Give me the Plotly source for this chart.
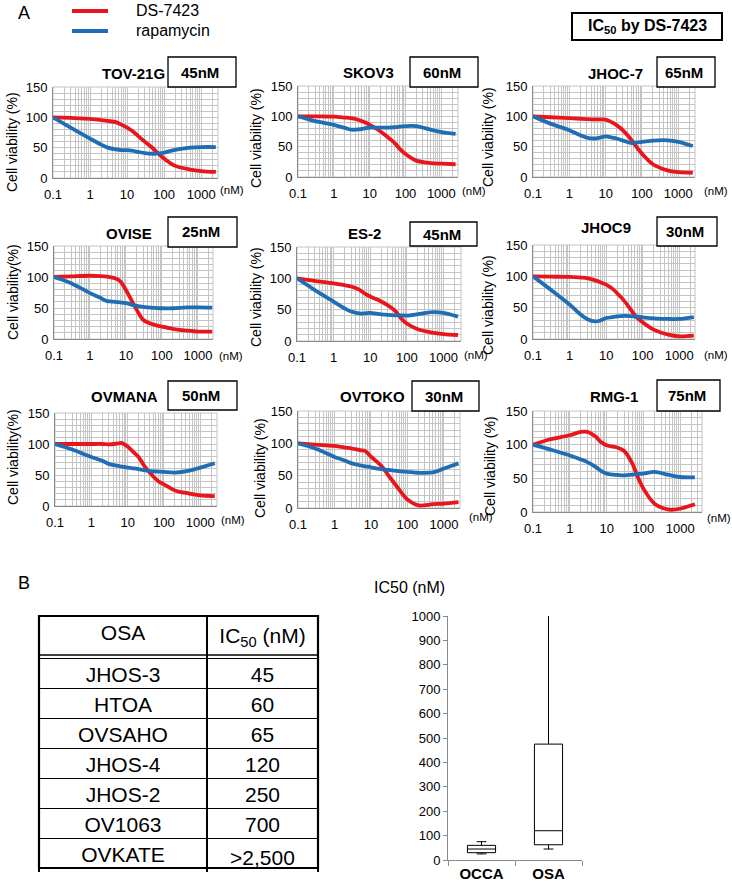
import numpy as np
import plotly.graph_objects as go

W, H = 732, 889
FONT = "Liberation Sans"
RED = "#e8161c"
BLUE = "#1f6db4"
GRID = "#c4c4c4"
AXIS = "#8a8a8a"

# ---------------- data ----------------
conc_nM = [0.1, 0.3, 1, 2, 3, 5, 7, 10, 15, 20, 30, 50, 70, 100, 200, 500, 1000, 2500]

cell_lines = ["TOV-21G", "SKOV3", "JHOC-7", "OVISE", "ES-2", "JHOC9", "OVMANA", "OVTOKO", "RMG-1"]
ic50_ds7423 = ["45nM", "60nM", "65nM", "25nM", "45nM", "30nM", "50nM", "30nM", "75nM"]
y_titles = ["Cell viability (%)", "Cell viability (%)", "Cell viability (%)",
            "Cell viability(%)", "Cell viability (%)", "Cell viability (%)",
            "Cell viability(%)", "Cell viability (%)", "Cell viability (%)"]

ds_tov21g = [100, 99, 97.5, 95.5, 94, 92, 88, 83, 76, 69, 60, 49, 40, 32, 20, 14, 11.5, 10]
rapa_tov21g = [100, 83, 65, 55, 50, 47, 46, 46, 44.5, 43, 41, 40, 40.5, 42, 46.5, 50, 51, 51]
ds_skov3 = [100, 100, 99.5, 98, 97, 94, 90.5, 86, 80, 75, 67, 56, 46, 38, 27, 23, 22, 21]
rapa_skov3 = [100, 92, 86, 81, 78, 78.5, 80, 81.5, 81.5, 81.5, 81.5, 82, 83, 84, 84, 78, 74, 71]
ds_jhoc7 = [100, 98.5, 97, 96, 95.5, 95, 95, 94.5, 90, 85.5, 77, 62, 50, 38.5, 21, 11, 8, 7]
rapa_jhoc7 = [100, 88, 77, 69, 65, 63.5, 65, 67, 65, 63.5, 60, 56, 56.5, 58, 60, 60.5, 58, 51]
ds_ovise = [100, 101, 102, 101.5, 100.5, 98, 93, 79, 60, 47, 31, 24.5, 22, 20, 16.5, 13.5, 12, 12]
rapa_ovise = [100, 90, 74, 66, 61, 60, 59, 57.7, 55, 53.5, 52, 50.5, 50, 49.6, 49.6, 51, 51, 50.5]
ds_es2 = [100, 96, 92, 89, 87, 82, 76, 71, 66.5, 63, 57, 47, 36, 28, 18.7, 13.3, 11, 9.6]
rapa_es2 = [100, 81.7, 63, 52, 47, 44, 44, 45, 43.5, 42.5, 41.6, 41, 40.8, 40.6, 42.7, 46, 45, 39]
ds_jhoc9 = [100, 99.5, 99, 98, 97.3, 93.6, 90.5, 86.7, 80, 73, 62, 45, 34, 26.6, 15, 7, 4.3, 5.3]
rapa_jhoc9 = [100, 79, 55, 39, 32, 28, 29.5, 33.5, 35, 36, 37, 36.5, 35.5, 34.6, 33, 32, 32, 35]
ds_ovmana = [100, 100, 100, 100, 99.5, 100.5, 101.5, 96, 86, 79, 63, 48, 40, 35, 25, 20, 17, 16]
rapa_ovmana = [100, 91, 79, 73, 68, 65, 63.5, 62, 60.5, 59.5, 57.5, 56, 55.5, 55, 53.8, 57, 62, 69]
ds_ovtoko = [100, 98, 96, 93.5, 92, 89.5, 88, 79.4, 71, 64, 50.5, 34, 23, 13, 4, 6, 6.7, 9]
rapa_ovtoko = [100, 92, 79, 73, 69, 66, 64.5, 63, 61, 60, 59, 57.5, 56.5, 56, 54.5, 55, 61, 69]
ds_rmg1 = [100, 108, 114, 119, 119, 112, 104, 99, 97, 95.5, 90.6, 71.8, 52, 34.7, 12.4, 3.5, 5, 11.4]
rapa_rmg1 = [100, 92.6, 84, 78, 74, 67, 61, 57, 55.5, 55, 54.5, 55.5, 56.5, 57, 59.5, 55, 52, 51.5]

ds_series = [ds_tov21g, ds_skov3, ds_jhoc7, ds_ovise, ds_es2, ds_jhoc9, ds_ovmana, ds_ovtoko, ds_rmg1]
rapa_series = [rapa_tov21g, rapa_skov3, rapa_jhoc7, rapa_ovise, rapa_es2, rapa_jhoc9,
               rapa_ovmana, rapa_ovtoko, rapa_rmg1]

x_tick_labels = ["0.1", "1", "10", "100", "1000"]
y_tick_labels = ["0", "50", "100", "150"]

osa_lines = ["JHOS-3", "HTOA", "OVSAHO", "JHOS-4", "JHOS-2", "OV1063", "OVKATE"]
osa_ic50_text = ["45", "60", "65", "120", "250", "700", ">2,500"]
osa_ic50 = [45, 60, 65, 120, 250, 700, 2500]
occa_ic50 = [45, 60, 65, 25, 45, 30, 50, 30, 75]
box_groups = ["OCCA", "OSA"]

# ---------------- layout geometry (pixels) ----------------
panels = [(53, 218, 87, 178, 3.455), (298, 458, 86, 177, 3.465), (533, 695, 86, 177, 3.46),
          (54, 213, 246, 339, 3.42), (297, 461, 247, 341, 3.48), (533, 695, 245, 339, 3.43),
          (55, 217, 413, 506, 3.46), (298, 460, 411, 508, 3.44), (533, 702, 411, 512, 3.59)]
title_pos = [(133, 74), (368, 73), (615, 74), (129, 233), (364, 233), (606, 228),
             (124, 397), (373, 397), (614, 397)]
ic_boxes = [(168, 57, 236, 87), (410, 57, 478, 87), (657, 57, 715, 87),
            (168, 217, 237, 247), (410, 222, 477, 246), (657, 217, 717, 246),
            (168, 381, 237, 410), (412, 381, 479, 411), (657, 380, 720, 411)]
ytitle_pos = [(12, 142), (256, 138), (488, 137), (13, 292), (256, 297), (488, 305),
              (13, 457), (260, 468), (490, 466)]
nm_pos = [(218, 190), (460, 191), (702, 191), (217, 356), (462, 355), (702, 355),
          (219, 520), (467, 517), (705, 518)]


def px(x):
    return x / W


def py(y):
    return 1 - y / H


def ann(x, y, text, size, xanchor="center", **kw):
    d = dict(x=px(x), y=py(y), xref="paper", yref="paper", text=text, showarrow=False,
             xanchor=xanchor, yanchor="middle", font=dict(size=size, family=FONT, color="black"))
    d.update(kw)
    return d


fig = go.Figure()
layout = dict(width=W, height=H, autosize=False, margin=dict(l=0, r=0, t=0, b=0, pad=0),
              paper_bgcolor="white", plot_bgcolor="white", showlegend=False,
              font=dict(family=FONT, color="black"))
shapes, annotations = [], []

for i, (name, ds, rp) in enumerate(zip(cell_lines, ds_series, rapa_series)):
    n = "" if i == 0 else str(i + 1)
    x0, x1, yt, yb, xend = panels[i]
    gv, gt = [], []
    for k in range(-1, 4):
        for d in range(1, 10):
            v = d * 10.0 ** k
            if np.log10(v) <= xend + 1e-9:
                gv.append(v)
                gt.append(x_tick_labels[k + 1] if d == 1 else "")
    yv = list(range(0, 151, 10))
    yt_txt = [y_tick_labels[v // 50] if v % 50 == 0 else "" for v in yv]
    layout["xaxis" + n] = dict(type="log", range=[-1, xend], domain=[px(x0), px(x1)],
                               anchor="y" + n, tickmode="array", tickvals=gv, ticktext=gt,
                               showgrid=True, gridcolor=GRID, gridwidth=1, showline=True,
                               linecolor=AXIS, linewidth=1, ticks="outside", ticklen=4,
                               tickcolor="rgba(0,0,0,0)", tickfont=dict(size=13),
                               zeroline=False, fixedrange=True, automargin=False)
    layout["yaxis" + n] = dict(range=[0, 150], domain=[py(yb), py(yt)], anchor="x" + n,
                               tickmode="array", tickvals=yv, ticktext=yt_txt, showgrid=True,
                               gridcolor=GRID, gridwidth=1, showline=True, linecolor=AXIS,
                               linewidth=1, ticks="outside", ticklen=2,
                               tickcolor="rgba(0,0,0,0)", tickfont=dict(size=13),
                               zeroline=False, fixedrange=True, automargin=False)
    shapes.append(dict(type="rect", xref="x" + n + " domain", yref="y" + n + " domain",
                       x0=0, x1=1, y0=0, y1=1, line=dict(color=GRID, width=1), layer="below"))
    fig.add_trace(go.Scatter(x=conc_nM, y=ds, mode="lines", name="DS-7423",
                             line=dict(color=RED, width=3.8, shape="spline", smoothing=0.9),
                             xaxis="x" + n, yaxis="y" + n, hoverinfo="skip"))
    fig.add_trace(go.Scatter(x=conc_nM, y=rp, mode="lines", name="rapamycin",
                             line=dict(color=BLUE, width=3.8, shape="spline", smoothing=0.9),
                             xaxis="x" + n, yaxis="y" + n, hoverinfo="skip"))
    tx, ty = title_pos[i]
    annotations.append(ann(tx, ty, "<b>%s</b>" % name, 15))
    bx0, by0, bx1, by1 = ic_boxes[i]
    shapes.append(dict(type="rect", xref="paper", yref="paper", x0=px(bx0), x1=px(bx1),
                       y0=py(by1), y1=py(by0), line=dict(color="black", width=1.3),
                       fillcolor="white", layer="above"))
    annotations.append(ann((bx0 + bx1) / 2 - 2, (by0 + by1) / 2, "<b>%s</b>" % ic50_ds7423[i], 15))
    ax, ay = ytitle_pos[i]
    annotations.append(ann(ax, ay, y_titles[i], 14, textangle=-90))
    nx, ny = nm_pos[i]
    annotations.append(ann(nx, ny, "(nM)", 11.5, xanchor="left"))

# legend (manual)
for yy, col, lab in [(11, RED, "DS-7423"), (31, BLUE, "rapamycin")]:
    shapes.append(dict(type="line", xref="paper", yref="paper", x0=px(72), x1=px(108),
                       y0=py(yy), y1=py(yy), line=dict(color=col, width=4)))
    annotations.append(ann(134, yy, lab, 16, xanchor="left"))

annotations.append(ann(24, 13, "A", 18))
annotations.append(ann(24, 583, "B", 18))

shapes.append(dict(type="rect", xref="paper", yref="paper", x0=px(572), x1=px(722),
                   y0=py(40), y1=py(13), line=dict(color="black", width=2)))
annotations.append(ann(647, 27, "<b>IC<sub>50</sub> by DS-7423</b>", 16))

# ---------------- table ----------------
fig.add_trace(go.Table(
    domain=dict(x=[px(39), px(318)], y=[py(872), py(616)]),
    columnwidth=[168, 111],
    header=dict(values=["OSA", "IC<sub>50</sub> (nM)"], height=42, align="center",
                line=dict(color="black", width=1.5), fill=dict(color="rgba(0,0,0,0)"),
                font=dict(size=21, color="black", family=FONT)),
    cells=dict(values=[osa_lines, osa_ic50_text], height=30, align="center",
               line=dict(color="black", width=1.5), fill=dict(color="rgba(0,0,0,0)"),
               font=dict(size=21, color="black", family=FONT)),
))
shapes.append(dict(type="line", xref="paper", yref="paper", x0=px(39), x1=px(318),
                   y0=py(655), y1=py(655), line=dict(color="black", width=1.5), layer="below"))
shapes.append(dict(type="rect", xref="paper", yref="paper", x0=px(39), x1=px(318),
                   y0=py(868), y1=py(616), line=dict(color="black", width=2.2), layer="below"))

# ---------------- box plot ----------------
def stats(v):
    a = np.asarray(v, dtype=float)
    return (np.percentile(a, 25), np.percentile(a, 50), np.percentile(a, 75), a.min(), a.max())

s_occa, s_osa = stats(occa_ic50), stats(osa_ic50)
fig.add_trace(go.Box(
    x=box_groups, q1=[s_occa[0], s_osa[0]], median=[s_occa[1], s_osa[1]],
    q3=[s_occa[2], s_osa[2]], lowerfence=[s_occa[3], s_osa[3]], upperfence=[s_occa[4], s_osa[4]],
    xaxis="x10", yaxis="y10", fillcolor="white", line=dict(color="black", width=1),
    whiskerwidth=0.35, width=0.42, boxpoints=False, hoverinfo="skip"))
layout["xaxis10"] = dict(domain=[px(448), px(582)], anchor="y10", type="category",
                         range=[-0.5, 1.5], showline=True, linecolor=AXIS, ticks="outside",
                         tickson="boundaries", ticklen=5, tickcolor=AXIS,
                         tickfont=dict(size=15, weight="bold"), showgrid=False, fixedrange=True,
                         automargin=False)
layout["yaxis10"] = dict(domain=[py(860), py(616)], anchor="x10", range=[0, 1000], dtick=100,
                         showline=True, linecolor=AXIS, ticks="outside", ticklen=4, tickcolor=AXIS,
                         tickfont=dict(size=13), showgrid=False, zeroline=False, fixedrange=True,
                         automargin=False)
annotations.append(ann(447, 587, "IC50 (nM)", 16, xanchor="right"))

layout["shapes"] = shapes
layout["annotations"] = annotations
fig.update_layout(**layout)
fig.write_html("out.html", include_plotlyjs=True, config={"displayModeBar": False},
               post_script="document.body.style.margin='0';document.body.style.overflow='hidden';")
